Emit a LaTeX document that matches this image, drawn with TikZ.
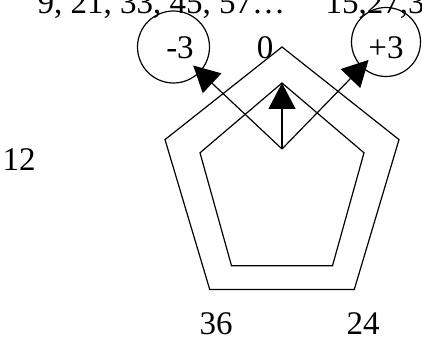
\documentclass[tikz,border=0pt]{standalone}
\usepackage{fontspec}
\setmainfont{Liberation Serif}
\usetikzlibrary{arrows.meta}

\begin{document}
\begin{tikzpicture}[x=1pt,y=-1pt,line width=1.2pt,>={Triangle[length=26pt,width=27pt]},font=\fontsize{33}{40}\selectfont,
  lbl/.style={inner sep=0pt},
  ring/.style={draw,circle,inner sep=0pt}]
  \useasboundingbox (0,0) rectangle (422,339);
  \clip (0,0) rectangle (422,339);
  \node[lbl,anchor=base west] (seqL) at (37,14) {9, 21, 33, 45, 57…};
  \node[lbl,anchor=base west] (seqR) at (325,14) {15,27,39…};
  \node[ring,minimum size=72pt] (M3) at (173.5,47) {};
  \node[lbl] (M3t) at (180,48) {-3};
  \node[ring,minimum size=69pt] (P3) at (386,42) {};
  \node[lbl] (P3t) at (386,48) {+3};
  \node[lbl] (L0) at (265,48) {0};
  \node[lbl] (L12) at (19,160) {12};
  \node[lbl] (L36) at (216,324) {36};
  \node[lbl] (L24) at (363,324) {24};
  \draw (282,47) -- (399,139.6) -- (354.3,289.4) -- (209.7,289.4) -- (165,139.6) -- cycle;
  \draw (282,83) -- (364,152.8) -- (332.5,265.7) -- (231.5,265.7) -- (200,152.8) -- cycle;
  \coordinate (ctr) at (282,149);
  \coordinate (apex) at (282,83);
  \draw[->] (ctr) -- (apex);
  \draw[->,shorten >=27pt] (ctr) -- (M3.center);
  \draw[->,shorten >=25pt] (ctr) -- (P3.center);
\end{tikzpicture}
\end{document}
